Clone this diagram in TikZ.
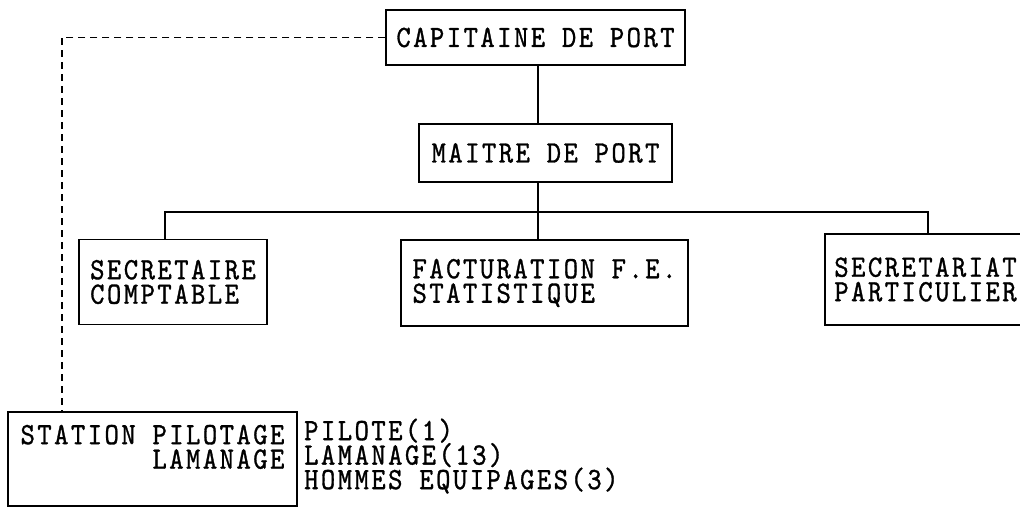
\documentclass[tikz,border=0pt]{standalone}
\usepackage{fontspec}
\newfontfamily\orgmono[LetterSpace=8,FakeBold=1,FakeStretch=0.88]{lmmono10-regular.otf}
\begin{document}
\begin{tikzpicture}[x=1pt,y=-1pt,
  orgfont/.style={font=\orgmono\fontsize{31}{24.5}\selectfont},
  box/.style={draw, rectangle, line width=1.5pt, inner sep=0pt, orgfont, align=left},
  conn/.style={line width=1.5pt},
  dashlink/.style={line width=1.5pt, dash pattern=on 7pt off 5pt}]
\useasboundingbox (0,0) rectangle (1020,513);
\clip (0,0) rectangle (1020,513);
\node[box, minimum height=55pt, minimum width=299pt] (cap) at (535.5,37.5) {CAPITAINE DE PORT};
\node[box, minimum height=58pt, minimum width=253pt] (mai) at (545.5,153) {MAITRE DE PORT};
\node[box, minimum height=85pt, minimum width=188pt] (sec) at (173,282) {SECRETAIRE\\COMPTABLE};
\node[box, minimum height=86pt, minimum width=287pt] (fact) at (544.5,283) {FACTURATION F.E.\\STATISTIQUE};
\node[box, minimum height=91pt, minimum width=201pt] (secr) at (925.5,279.5) {SECRETARIAT\\PARTICULIER};
\node[box, minimum height=94pt, minimum width=289pt, align=right] (sta) at (152.5,459) {STATION PILOTAGE\\LAMANAGE\\\mbox{}};
\node[orgfont, anchor=west, align=left, inner sep=0pt] (list) at (304,456) {PILOTE(1)\\LAMANAGE(13)\\HOMMES EQUIPAGES(3)};
\coordinate (trunk) at (538,212);
\coordinate (b1) at (165,212);
\coordinate (b3) at (928,212);
\coordinate (dc) at (62,36);
\draw[conn] (cap.south -| trunk) -- (mai.north -| trunk);
\draw[conn] (mai.south -| trunk) -- (trunk);
\draw[conn] (sec.north -| b1) -- (b1) -- (b3) -- (secr.north -| b3);
\draw[conn] (fact.north -| trunk) -- (trunk);
\draw[dashlink] (cap.west) -- (cap.west -| dc) -- (sta.north -| dc);
\end{tikzpicture}
\end{document}
